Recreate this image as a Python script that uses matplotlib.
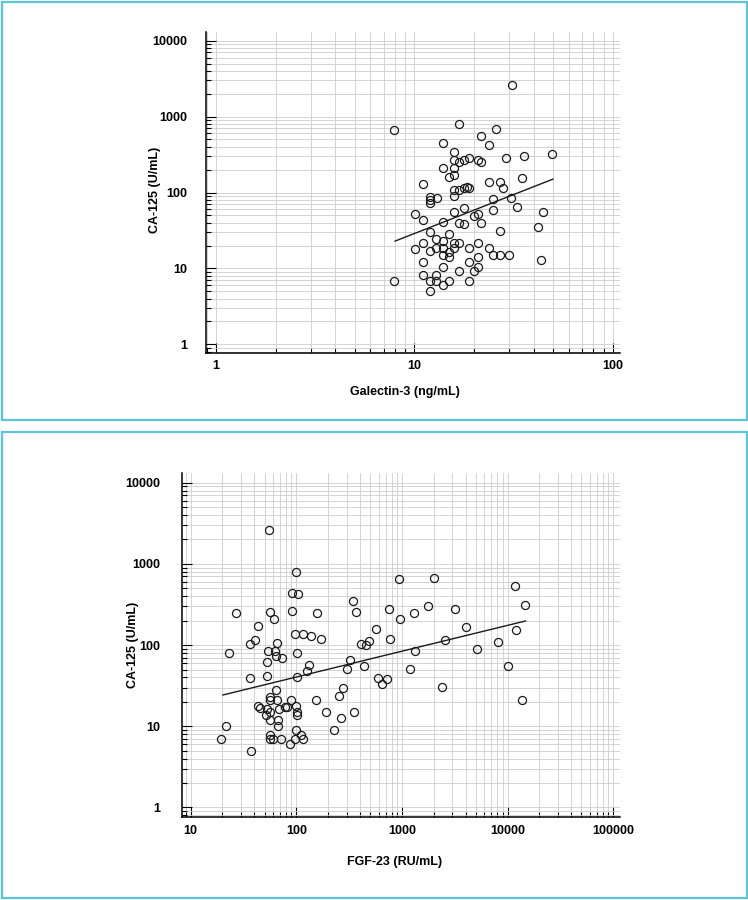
import matplotlib
matplotlib.use("Agg")
import matplotlib.pyplot as plt
from matplotlib.patches import Rectangle
from matplotlib.ticker import LogLocator, FuncFormatter, NullFormatter

plt.rcParams['font.family'] = ['Liberation Sans', 'DejaVu Sans']

# ---------------- Data: Galectin-3 vs CA-125 ----------------
gal3 = [31, 7.9, 16.9, 25.7, 21.7, 13.9, 23.9, 15.9, 49.7, 35.6, 29.0, 15.9, 16.9, 17.8,
        18.8, 20.9, 21.6, 13.9, 15.9, 15.0, 15.9, 34.8, 11.1, 23.9, 27.0, 27.9, 15.9, 16.9,
        17.8, 18.8, 18.4, 15.9, 12.0, 12.0, 12.0, 13.0, 24.9, 30.7, 32.8, 17.9, 24.9, 44.6,
        10.06, 15.9, 19.9, 20.9, 11.1, 13.9, 16.9, 17.8, 21.7, 27.0, 41.9, 12.0, 15.0, 12.9,
        13.9, 11.1, 15.9, 16.9, 20.9, 10.06, 12.0, 12.9, 13.9, 15.0, 15.9, 13.9, 15.0, 18.8,
        23.9, 24.9, 27.0, 30.0, 20.9, 11.1, 18.8, 13.9, 20.9, 19.9, 16.9, 43.7, 11.1, 12.9,
        12.0, 12.9, 15.0, 13.9, 18.8, 7.9, 12.0]
ca125_top = [2580, 663, 808, 689, 553, 447, 429, 345, 321, 301, 281, 266, 253, 266,
             281, 266, 251, 211, 211, 161, 169, 154, 128, 137, 137, 113, 108, 108,
             113, 113, 117, 90, 87, 80, 72, 85, 81, 85, 64.5, 62.6, 59, 55,
             51.8, 55, 49.2, 51.8, 43.2, 41.4, 40.1, 39, 40.1, 31.3, 34.8, 30.4, 28.6, 24.3,
             23, 21.5, 21.5, 21.5, 21.5, 18.1, 17.2, 18.3, 18.3, 16.5, 18.3, 15.1, 14, 18.3,
             18.3, 15.1, 15.1, 15.1, 14.2, 12.1, 12.1, 10.3, 10.4, 9.2, 9.2, 12.8, 8.1, 8.1,
             6.9, 6.9, 6.9, 6.0, 6.9, 6.9, 5.0]
fit_top_x = [8, 50]
fit_top_y = [22.9, 150]

# ---------------- Data: FGF-23 vs CA-125 ----------------
fgf23 = [55, 100, 92, 104, 345, 27, 56.4, 61.1, 90.4, 156, 365, 43.4, 98, 116.8,
         137.8, 170, 36.8, 41.0, 65.6, 413, 461, 488, 22.9, 53.9, 62.4, 100.9, 53.2, 63.8,
         72.7, 133, 126, 320, 300, 438, 36.2, 53.2, 100.9, 64.8, 56.0, 56.4, 65.6, 43.1,
         45.3, 89.1, 81.6, 77.6, 99.4, 69.2, 53.2, 56.4, 51.6, 100.9, 101.6, 153.7, 192.8, 252,
         277, 265, 350, 67.7, 56.8, 67.7, 21.8, 98.7, 229.5, 56.0, 56.0, 60.7, 71.2, 97.2,
         111.7, 116.8, 87.2, 19.5, 37.6, 938, 2014, 11700, 14760, 761, 1293, 1766, 3162, 968,
         565, 4080, 11960, 778, 2582, 1322, 5108, 8128, 1203, 10110, 594, 644, 718, 2418, 13620]
ca125_bot = [2580, 797, 435, 423, 350, 246, 258, 211, 265, 250, 258, 172, 136, 136,
             128, 117.6, 104, 115, 105, 102, 99, 113, 80.4, 84.3, 84.3, 79, 61.1, 73.8,
             69.1, 57.1, 47.4, 64.7, 50.1, 54.6, 38.8, 41.1, 39.9, 27.6, 22.8, 20.9, 21.1, 17.8,
             16.8, 20.9, 17.5, 17.5, 17.7, 16.5, 16.2, 14.8, 13.7, 14.9, 13.8, 21.1, 14.8, 23.9,
             30.0, 12.8, 14.9, 12.1, 11.9, 10.1, 10.1, 8.9, 8.9, 7.8, 7.0, 6.9, 6.9, 7.0,
             7.8, 7.0, 6.0, 6.9, 5.0, 653, 678, 540, 314, 281, 248, 300, 281, 208,
             159, 168, 154.5, 118.6, 115, 84.3, 89.3, 109, 50.5, 55.0, 39.5, 33.0, 38.0, 30.9, 20.9]
fit_bot_x = [20.2, 14760]
fit_bot_y = [24.3, 198]

W, H = 748, 900
fig = plt.figure(figsize=(W / 100, H / 100), dpi=100)
fig.patch.set_facecolor('white')

border = '#5ec4d8'
def px_rect(x0, y0, x1, y1):
    r = Rectangle((x0 / W, 1 - y1 / H), (x1 - x0) / W, (y1 - y0) / H,
                  transform=fig.transFigure, fill=False, edgecolor=border, linewidth=1.6)
    fig.add_artist(r)

px_rect(1.5, 1.5, 746.5, 420)
px_rect(1.5, 432, 746.5, 897.5)

def axes_px(x0, y0, x1, y1):
    return fig.add_axes([x0 / W, 1 - y1 / H, (x1 - x0) / W, (y1 - y0) / H])

fmt = FuncFormatter(lambda v, p: f'{v:g}')

def style(ax, xlim, ylim, ypad, xpad):
    ax.set_xscale('log')
    ax.set_yscale('log')
    ax.set_xlim(*xlim)
    ax.set_ylim(*ylim)
    for s in ('top', 'right'):
        ax.spines[s].set_visible(False)
    for s in ('left', 'bottom'):
        ax.spines[s].set_linewidth(1.1)
        ax.spines[s].set_color('black')
    for axis in (ax.xaxis, ax.yaxis):
        axis.set_major_locator(LogLocator(base=10, numticks=20))
        axis.set_minor_locator(LogLocator(base=10, subs=range(2, 10), numticks=20))
        axis.set_major_formatter(fmt)
        axis.set_minor_formatter(NullFormatter())
    ax.grid(which='both', color='#cdcdcd', linewidth=0.6)
    ax.set_axisbelow(True)
    ax.tick_params(which='both', direction='in', color='black', width=0.8)
    ax.tick_params(which='major', length=7)
    ax.tick_params(which='minor', length=3.5)
    ax.tick_params(axis='y', which='major', pad=ypad, labelsize=9)
    ax.tick_params(axis='x', which='major', pad=xpad, labelsize=9)
    for lab in ax.get_xticklabels() + ax.get_yticklabels():
        lab.set_fontweight('bold')

# ---- Top chart ----
ax1 = axes_px(205.7, 31.7, 620, 353.3)
style(ax1, (0.887, 109), (0.761, 13150), ypad=13, xpad=5)
ax1.plot(gal3, ca125_top, linestyle='none', marker='o', markersize=5.8,
         markerfacecolor='none', markeredgecolor='#1a1a1a', markeredgewidth=0.9)
ax1.plot(fit_top_x, fit_top_y, color='#1a1a1a', linewidth=1.0)
for lab in ax1.get_xticklabels() + ax1.get_yticklabels():
    lab.set_fontweight('bold')
fig.text(155 / W, 1 - 190 / H, 'CA-125 (U/mL)', rotation=90, ha='center', va='center',
         fontsize=9, fontweight='bold')
fig.text(405 / W, 1 - 392 / H, 'Galectin-3 (ng/mL)', ha='center', va='center',
         fontsize=9, fontweight='bold')

# ---- Bottom chart ----
ax2 = axes_px(182.3, 473.3, 620, 816.7)
style(ax2, (8.33, 116000), (0.77, 13050), ypad=16, xpad=6)
ax2.plot(fgf23, ca125_bot, linestyle='none', marker='o', markersize=5.8,
         markerfacecolor='none', markeredgecolor='#1a1a1a', markeredgewidth=0.9)
ax2.plot(fit_bot_x, fit_bot_y, color='#1a1a1a', linewidth=1.0)
for lab in ax2.get_xticklabels() + ax2.get_yticklabels():
    lab.set_fontweight('bold')
fig.text(133 / W, 1 - 645 / H, 'CA-125 (U/mL)', rotation=90, ha='center', va='center',
         fontsize=9, fontweight='bold')
fig.text(395 / W, 1 - 862 / H, 'FGF-23 (RU/mL)', ha='center', va='center',
         fontsize=9, fontweight='bold')

fig.savefig('out.png', dpi=100)
